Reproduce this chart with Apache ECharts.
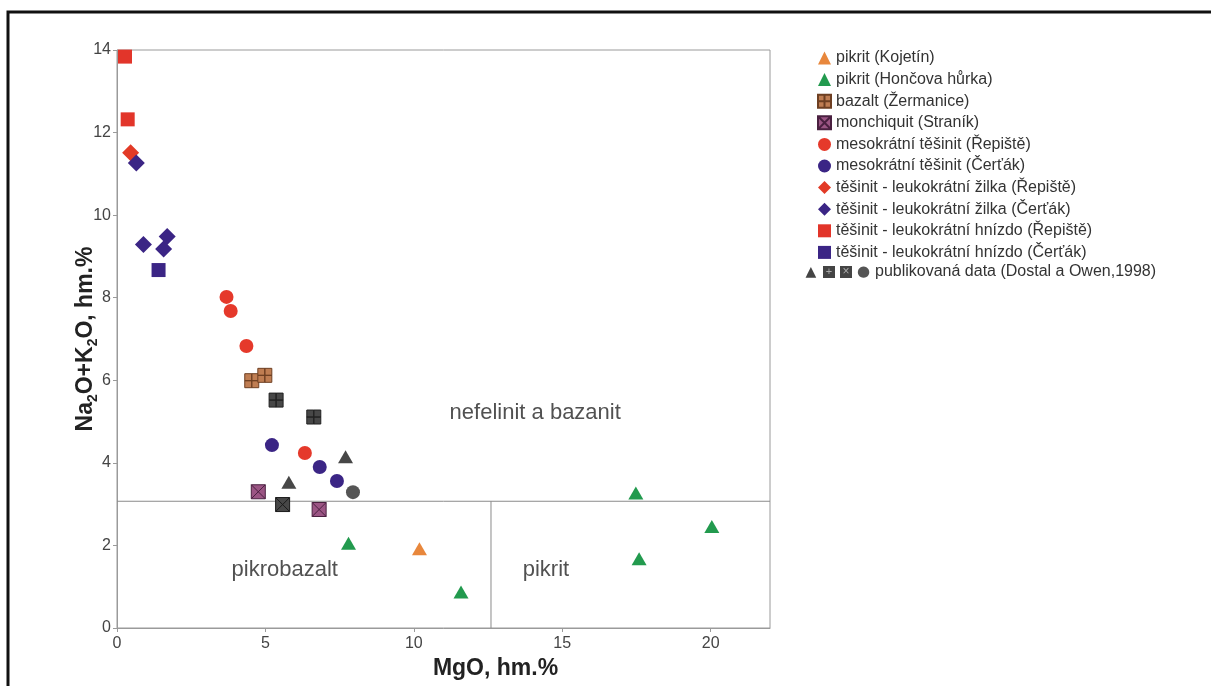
<!DOCTYPE html>
<html>
<head>
<meta charset="utf-8">
<title>MgO vs Na2O+K2O</title>
<script src="https://cdn.jsdelivr.net/npm/echarts@6/dist/echarts.min.js"></script>
<style>
  html, body { margin: 0; padding: 0; background: #fff; }
  #chart { width: 1211px; height: 686px; }
</style>
</head>
<body>
<div id="chart"></div>
<script>
  // data: [MgO, Na2O+K2O]
  const pikritKojetin = [[10.19, 1.92]];
  const pikritHoncova = [[7.80, 2.05], [11.59, 0.87], [17.48, 3.27], [20.04, 2.46], [17.59, 1.68]];
  const bazaltZermanice = [[4.54, 5.99], [4.98, 6.12]];
  const monchiquitStranik = [[4.76, 3.30], [6.81, 2.87]];
  const mesoRepiste = [[3.69, 8.02], [3.83, 7.68], [4.36, 6.83], [6.33, 4.24]];
  const mesoCertak = [[5.22, 4.43], [6.83, 3.90], [7.41, 3.56]];
  const zilkaRepiste = [[0.46, 11.51]];
  const zilkaCertak = [[0.65, 11.26], [0.89, 9.29], [1.57, 9.18], [1.69, 9.48]];
  const hnizdoRepiste = [[0.27, 13.84], [0.36, 12.32]];
  const hnizdoCertak = [[1.40, 8.67]];
  const pubTriangle = [[5.79, 3.53], [7.70, 4.15]];
  const pubSquarePlus = [[5.36, 5.52], [6.63, 5.11]];
  const pubSquareX = [[5.58, 2.99]];
  const pubCircle = [[7.95, 3.29]];

  // field boundaries and field names
  const boundaryH = [[0, 3.07], [22, 3.07]];
  const boundaryV = [[12.6, 0], [12.6, 3.07]];
  const fieldNames = [[14.09, 5.2, 'nefelinit a bazanit'], [5.65, 1.40, 'pikrobazalt'], [14.45, 1.40, 'pikrit']];

  const xTicks = { min: 0, max: 22, interval: 5 };
  const yTicks = { min: 0, max: 14, interval: 2 };

  const PUB = 'publikovaná data (Dostal a Owen,1998)';
  const legendNames = [
    'pikrit (Kojetín)',
    'pikrit (Hončova hůrka)',
    'bazalt (Žermanice)',
    'monchiquit (Straník)',
    'mesokrátní těšinit (Řepiště)',
    'mesokrátní těšinit (Čerťák)',
    'těšinit - leukokrátní žilka (Řepiště)',
    'těšinit - leukokrátní žilka (Čerťák)',
    'těšinit - leukokrátní hnízdo (Řepiště)',
    'těšinit - leukokrátní hnízdo (Čerťák)'
  ];

  const squarePlus = 'path://M0,0H10V10H0Z M10,0H20V10H10Z M0,10H10V20H0Z M10,10H20V20H10Z';
  const squareX = 'path://M0,0H20V20H0Z M0,0L20,20 M20,0L0,20';
  const FONT = '"Liberation Sans", Arial, sans-serif';

  function pts(name, data, symbol, size, color, border) {
    return {
      name: name,
      type: 'scatter',
      data: data,
      symbol: symbol,
      symbolSize: size,
      itemStyle: {
        color: color,
        opacity: 1,
        borderColor: border || color,
        borderWidth: border ? 1 : 0
      },
      z: 5
    };
  }

  function line(data) {
    return {
      type: 'line',
      data: data,
      symbol: 'none',
      silent: true,
      lineStyle: { color: '#8a8a8a', width: 1 },
      z: 2
    };
  }

  const chart = echarts.init(document.getElementById('chart'));
  chart.setOption({
    backgroundColor: '#fff',
    animation: false,
    textStyle: { fontFamily: FONT },
    graphic: [{
      type: 'rect',
      shape: { x: 8, y: 12, width: 1400, height: 900 },
      style: { fill: 'none', stroke: '#111', lineWidth: 3 },
      silent: true
    }],
    grid: {
      left: 117, right: 441, top: 50, bottom: 58,
      show: true, borderColor: '#9a9a9a', borderWidth: 1
    },
    legend: [{
      orient: 'vertical',
      left: 812, top: 45,
      itemWidth: 13, itemHeight: 13, itemGap: 5.6,
      data: legendNames,
      textStyle: { fontSize: 16, color: '#333', lineHeight: 16, fontFamily: FONT }
    }, {
      orient: 'vertical',
      left: 794, top: 259,
      itemWidth: 0, itemHeight: 13,
      data: [{ name: PUB, icon: 'none' }],
      formatter: function (name) {
        return '{t|▲}{g| }{sq|+}{g| }{sx|×}{g| }{c|●}{g| }' + name;
      },
      textStyle: {
        fontSize: 16, color: '#333', fontFamily: FONT,
        rich: {
          g: { fontSize: 16, width: 5 },
          t: { fontSize: 14, color: '#444', fontFamily: 'DejaVu Sans', width: 14, align: 'center' },
          sq: { fontSize: 11, color: '#aaa', backgroundColor: '#444', width: 12, height: 12, lineHeight: 12, align: 'center' },
          sx: { fontSize: 12, color: '#aaa', backgroundColor: '#444', width: 12, height: 12, lineHeight: 12, align: 'center' },
          c: { fontSize: 15, color: '#555', fontFamily: 'DejaVu Sans', width: 13, align: 'center' }
        }
      }
    }],
    xAxis: {
      type: 'value',
      min: xTicks.min, max: xTicks.max, interval: xTicks.interval,
      name: 'MgO, hm.%',
      nameLocation: 'middle',
      nameGap: 21,
      nameTextStyle: { fontSize: 23, fontWeight: 'bold', color: '#222', padding: [0, 0, 0, 104], verticalAlign: 'top' },
      splitLine: { show: false },
      axisLine: { lineStyle: { color: '#9a9a9a' } },
      axisTick: { show: true, length: 4, lineStyle: { color: '#9a9a9a' } },
      axisLabel: { fontSize: 16, color: '#444', margin: 8, showMaxLabel: false }
    },
    yAxis: {
      type: 'value',
      min: yTicks.min, max: yTicks.max, interval: yTicks.interval,
      name: '{b|Na}{s|2}{b|O+K}{s|2}{b|O, hm.%}',
      nameLocation: 'middle',
      nameGap: 17,
      nameRotate: 90,
      nameMoveOverlap: false,
      nameTextStyle: {
        rich: {
          b: { fontSize: 23, fontWeight: 'bold', color: '#222', lineHeight: 28 },
          s: { fontSize: 14, fontWeight: 'bold', color: '#222', lineHeight: 14, verticalAlign: 'bottom' }
        }
      },
      splitLine: { show: false },
      axisLine: { lineStyle: { color: '#9a9a9a' } },
      axisTick: { show: true, length: 4, lineStyle: { color: '#9a9a9a' } },
      axisLabel: { fontSize: 16, color: '#444', margin: 6 }
    },
    series: [
      line(boundaryH),
      line(boundaryV),
      {
        type: 'scatter',
        data: fieldNames,
        symbolSize: 1,
        silent: true,
        itemStyle: { color: 'rgba(0,0,0,0)' },
        label: {
          show: true,
          position: 'inside',
          formatter: function (p) { return p.value[2]; },
          fontSize: 22,
          color: '#262626',
          fontFamily: FONT
        },
        z: 3
      },
      pts(legendNames[9], hnizdoCertak, 'rect', 14, '#3b2585'),
      pts(legendNames[4], mesoRepiste, 'circle', 14, '#e5392b'),
      pts(legendNames[2], bazaltZermanice, squarePlus, 14, '#bf7d52', '#6e3f22'),
      pts(PUB, pubSquarePlus, squarePlus, 14, '#474747', '#222'),
      pts(legendNames[5], mesoCertak, 'circle', 14, '#3b2585'),
      pts(PUB, pubTriangle, 'triangle', [15, 13], '#474747'),
      pts(PUB, pubCircle, 'circle', 14, '#555'),
      pts(legendNames[3], monchiquitStranik, squareX, 14, '#9b5584', '#4a2040'),
      pts(PUB, pubSquareX, squareX, 14, '#474747', '#1a1a1a'),
      pts(legendNames[0], pikritKojetin, 'triangle', [15, 13], '#e8873c'),
      pts(legendNames[1], pikritHoncova, 'triangle', [15, 13], '#229a4e'),
      pts(legendNames[8], hnizdoRepiste, 'rect', 14, '#e2352a'),
      pts(legendNames[6], zilkaRepiste, 'diamond', 17, '#e23a26'),
      pts(legendNames[7], zilkaCertak, 'diamond', 17, '#3b2585')
    ]
  });
</script>
</body>
</html>
